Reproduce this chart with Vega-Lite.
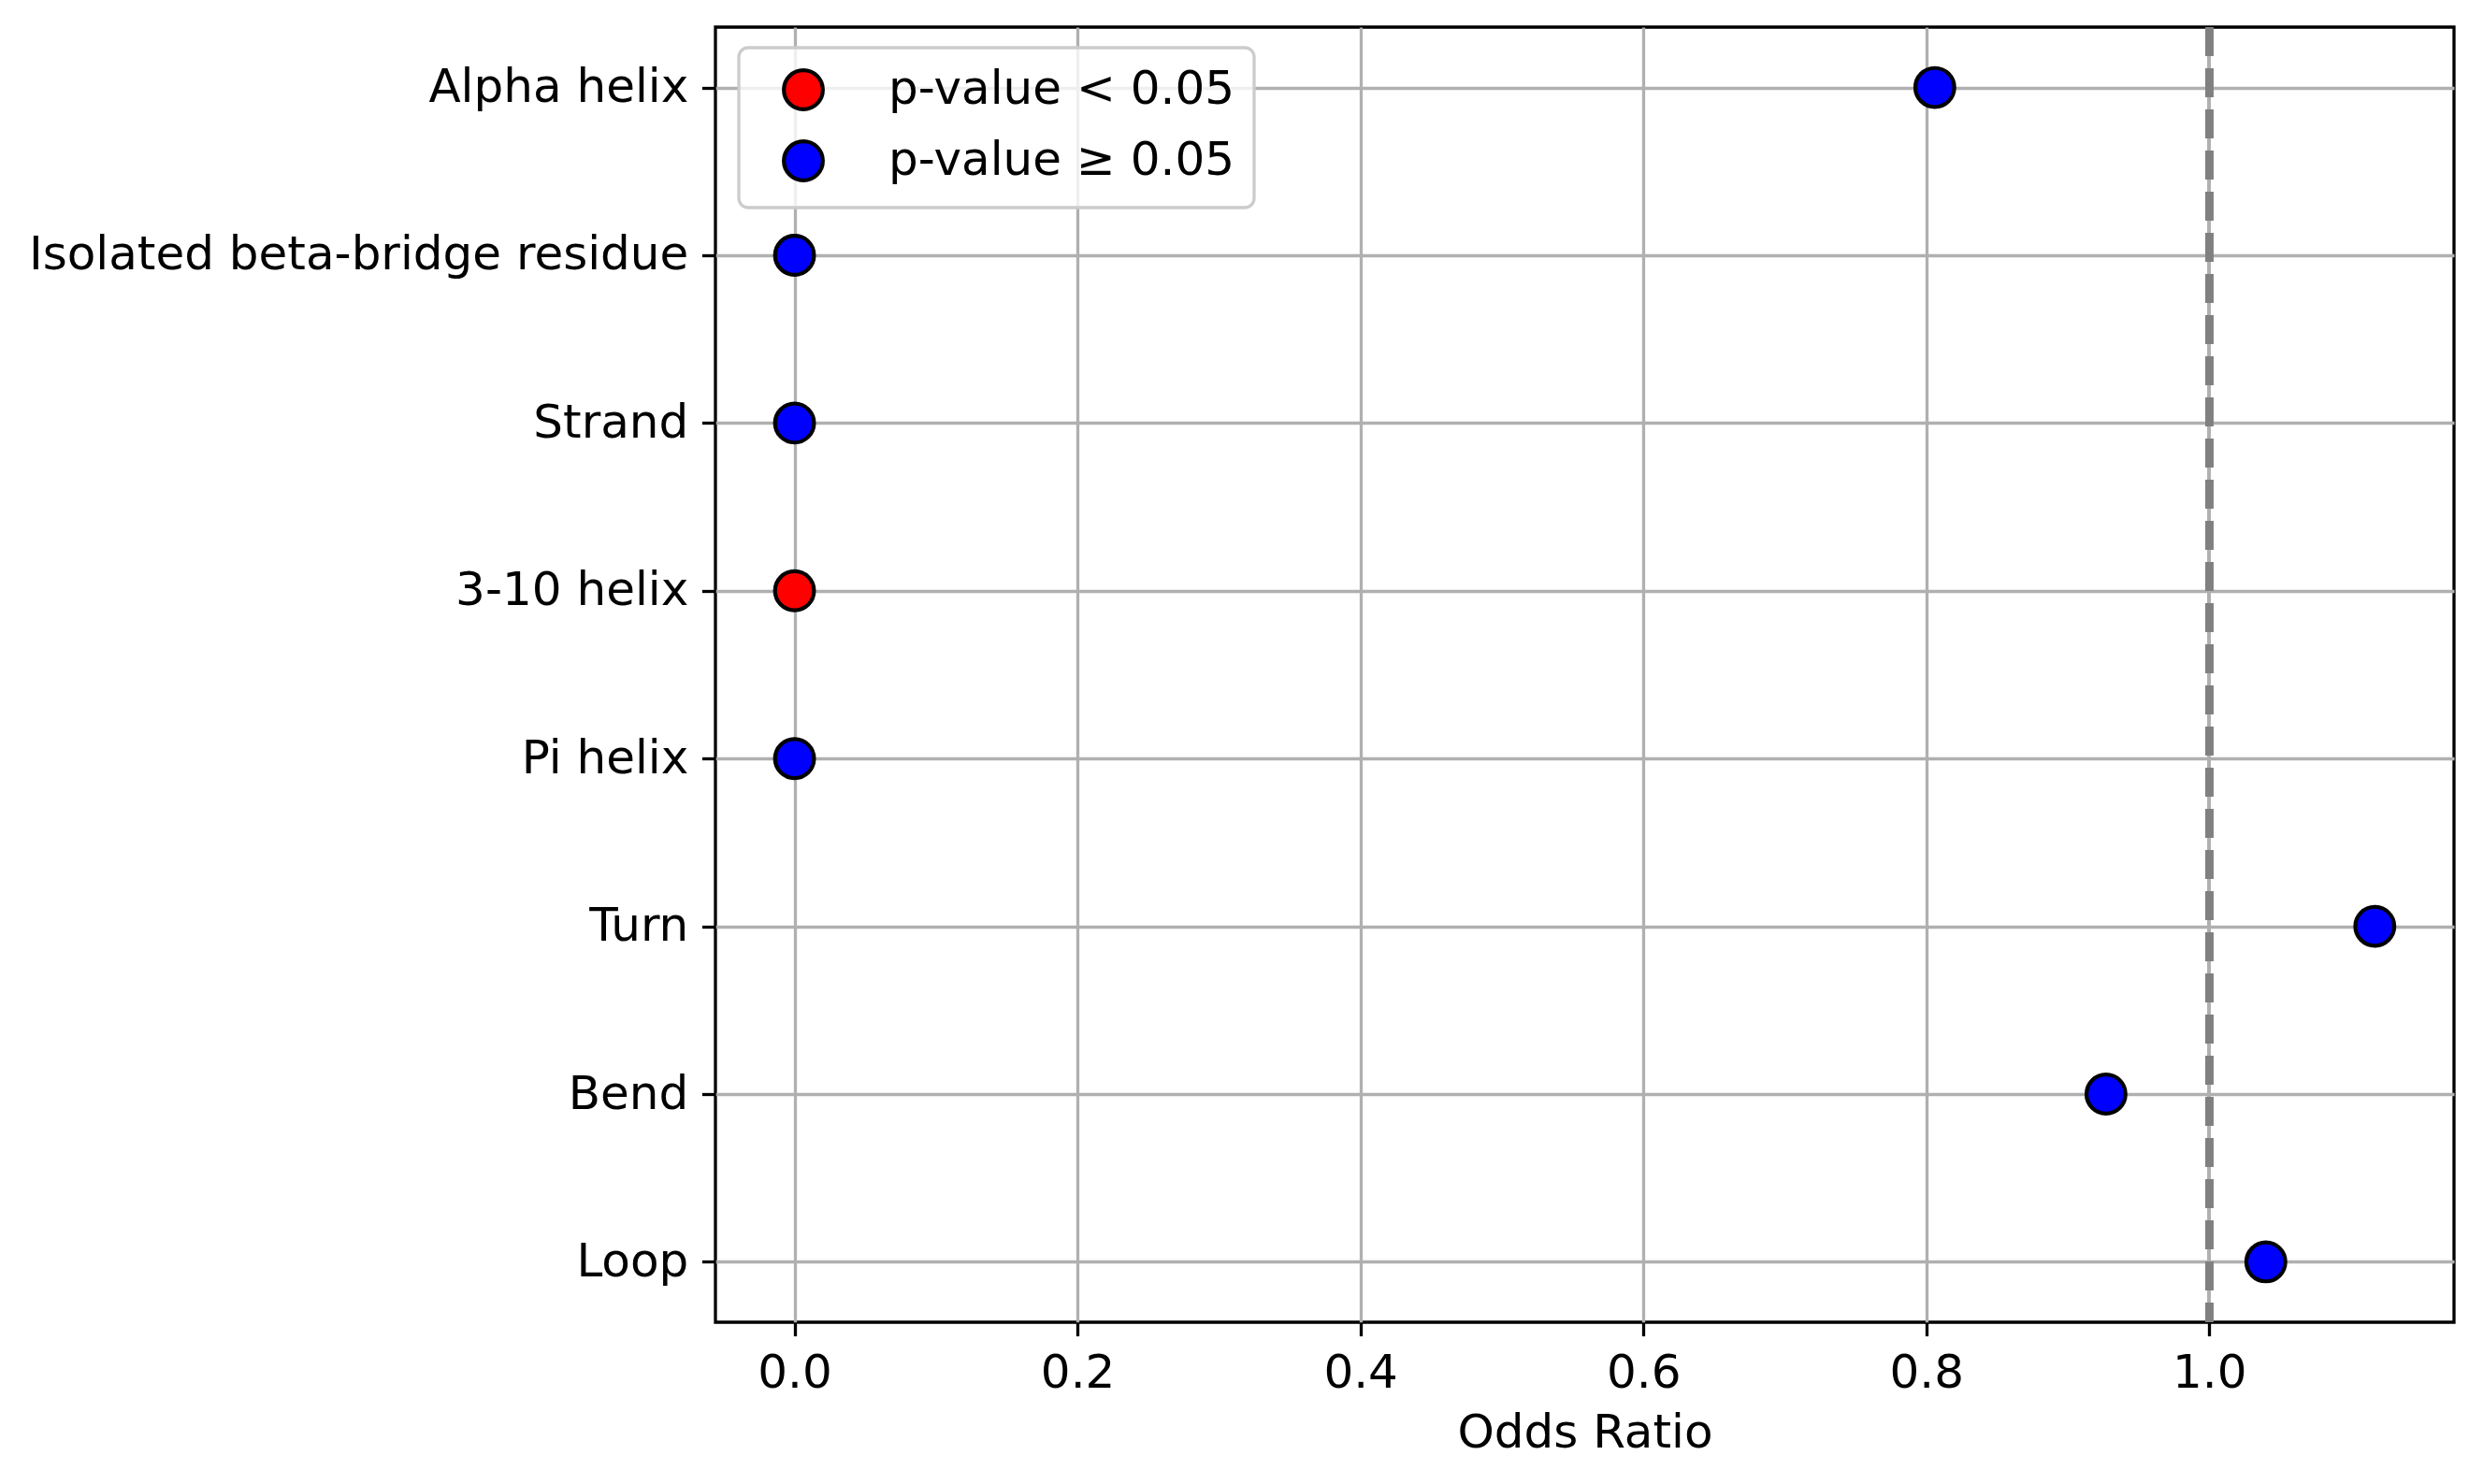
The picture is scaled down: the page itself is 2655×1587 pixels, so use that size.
{
  "$schema": "https://vega.github.io/schema/vega-lite/v6.json",
  "autosize": {"type": "none"},
  "padding": {"left": 765, "top": 29, "right": 31, "bottom": 173},
  "width": 1859,
  "height": 1385,
  "background": "white",
  "data": {
    "values": [
      {"structure": "Alpha helix", "odds_ratio": 0.806, "significance": "p-value ≥ 0.05"},
      {"structure": "Isolated beta-bridge residue", "odds_ratio": 0.0, "significance": "p-value ≥ 0.05"},
      {"structure": "Strand", "odds_ratio": 0.0, "significance": "p-value ≥ 0.05"},
      {"structure": "3-10 helix", "odds_ratio": 0.0, "significance": "p-value < 0.05"},
      {"structure": "Pi helix", "odds_ratio": 0.0, "significance": "p-value ≥ 0.05"},
      {"structure": "Turn", "odds_ratio": 1.117, "significance": "p-value ≥ 0.05"},
      {"structure": "Bend", "odds_ratio": 0.927, "significance": "p-value ≥ 0.05"},
      {"structure": "Loop", "odds_ratio": 1.04, "significance": "p-value ≥ 0.05"}
    ]
  },
  "config": {
    "font": "DejaVu Sans",
    "view": {"stroke": "black", "strokeWidth": 3.3},
    "axis": {
      "zindex": 1,
      "domain": false,
      "grid": true,
      "gridColor": "#b0b0b0",
      "gridWidth": 3.3,
      "tickColor": "black",
      "tickWidth": 3.3,
      "tickSize": 14.6,
      "labelPadding": 14.6,
      "labelLimit": 0,
      "labelFont": "DejaVu Sans",
      "labelFontSize": 50,
      "labelColor": "black",
      "titleFont": "DejaVu Sans",
      "titleFontSize": 50,
      "titleFontWeight": "normal",
      "titleColor": "black"
    }
  },
  "layer": [
    {
      "mark": {"type": "rule", "color": "#b0b0b0", "strokeWidth": 3.3},
      "encoding": {"x": {"datum": 1, "type": "quantitative"}}
    },
    {
      "mark": {"type": "rule", "color": "#808080", "strokeWidth": 8, "strokeDash": [31, 13]},
      "encoding": {"x": {"datum": 1, "type": "quantitative"}}
    },
    {
      "mark": {"type": "point", "shape": "circle", "filled": true, "size": 1739, "stroke": "black", "strokeWidth": 4.2, "opacity": 1},
      "encoding": {
        "x": {
          "field": "odds_ratio",
          "type": "quantitative",
          "title": "Odds Ratio",
          "scale": {"domain": [-0.0559, 1.173], "nice": false, "zero": false},
          "axis": {
            "values": [0, 0.2, 0.4, 0.6, 0.8, 1.0],
            "format": ".1f",
            "titlePadding": 14,
            "gridColor": {"condition": {"test": "datum.value === 1", "value": "rgba(0,0,0,0)"}, "value": "#b0b0b0"}
          }
        },
        "y": {
          "field": "structure",
          "type": "nominal",
          "sort": null,
          "title": null,
          "scale": {"type": "point", "padding": 0.36}
        },
        "fill": {
          "field": "significance",
          "type": "nominal",
          "scale": {"domain": ["p-value < 0.05", "p-value ≥ 0.05"], "range": ["#ff0000", "#0000ff"]},
          "legend": {
            "title": null,
            "orient": "none",
            "legendX": 25,
            "legendY": 22,
            "zindex": 2,
            "padding": 20,
            "symbolOffset": 24,
            "rowPadding": 16,
            "labelOffset": 66,
            "labelLimit": 0,
            "labelFontSize": 50,
            "labelFont": "DejaVu Sans",
            "labelColor": "black",
            "symbolType": "circle",
            "symbolSize": 1739,
            "symbolStrokeColor": "black",
            "symbolStrokeWidth": 4.2,
            "symbolOpacity": 1,
            "fillColor": "rgba(255,255,255,0.8)",
            "strokeColor": "#cccccc",
            "cornerRadius": 10,
            "encode": {"legend": {"update": {"strokeWidth": {"value": 3.3}}}}
          }
        }
      }
    }
  ]
}
